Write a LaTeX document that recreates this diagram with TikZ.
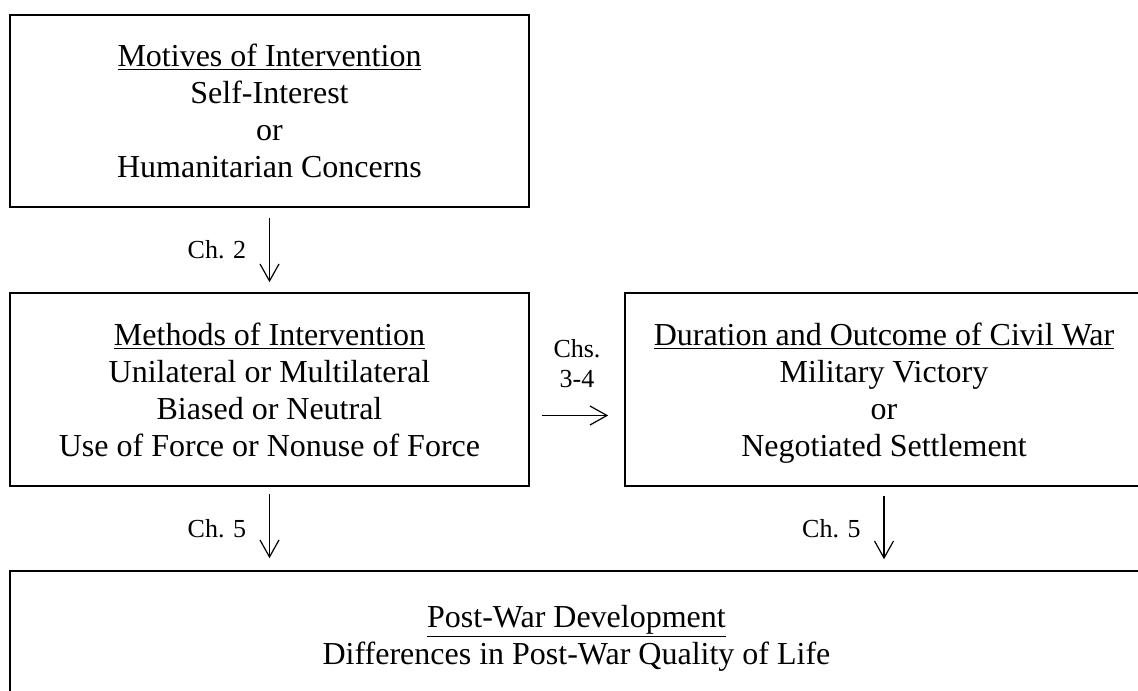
\documentclass[tikz,border=0pt]{standalone}
\usepackage{fontspec}
\setmainfont{Liberation Serif}
\usetikzlibrary{arrows.meta}
\tikzset{
  box/.style={draw, line width=0.8pt, align=center, inner sep=0pt,
    font=\fontsize{16}{18.5}\selectfont},
  flow/.style={-{Straight Barb[length=8.5pt,width=9.5pt]}, line width=0.6pt},
  chlabel/.style={font=\fontsize{13}{15}\selectfont, align=center}
}

\begin{document}
\begin{tikzpicture}[x=0.5pt, y=-0.5pt]
  % Page frame, the lower boxes run past it
  \clip (0,0) rectangle (1138,690);
  % Draw the four boxes
  \node[box, minimum width=259.5pt, minimum height=96pt] (motives) at (269.5,111)
    {\underline{Motives of Intervention}\\Self-Interest\\or\\Humanitarian Concerns};
  \node[box, minimum width=259.5pt, minimum height=96.5pt] (methods) at (269.5,389.5)
    {\underline{Methods of Intervention}\\Unilateral or Multilateral\\Biased or Neutral\\Use of Force or Nonuse of Force};
  \node[box, minimum width=259pt, minimum height=96.5pt] (outcome) at (884,389.5)
    {\underline{Duration and Outcome of Civil War}\\Military Victory\\or\\\raisebox{0pt}[\height][0pt]{Negotiated Settlement}};
  \node[box, minimum width=566.5pt, minimum height=67pt] (postwar) at (576.5,638)
    {\underline{Post-War Development}\\Differences in Post-War Quality of Life};
  % Draw the chapter arrows
  \draw[flow, shorten <=5pt, shorten >=5pt] (motives) -- node[chlabel, left=8pt] {Ch. 2} (methods);
  \draw[flow, shorten <=6pt, shorten >=8pt] ([yshift=-13pt]methods.east)
    -- node[chlabel, above=10pt] {Chs.\\3-4} ([yshift=-13pt]outcome.west);
  \draw[flow, shorten <=3.5pt, shorten >=6pt] (methods.south)
    -- node[chlabel, left=8pt] {Ch. 5} (methods.south |- postwar.north);
  \draw[flow, shorten <=4.5pt, shorten >=5.5pt] (outcome.south)
    -- node[chlabel, left=8pt] {Ch. 5} (outcome.south |- postwar.north);
\end{tikzpicture}
\end{document}
